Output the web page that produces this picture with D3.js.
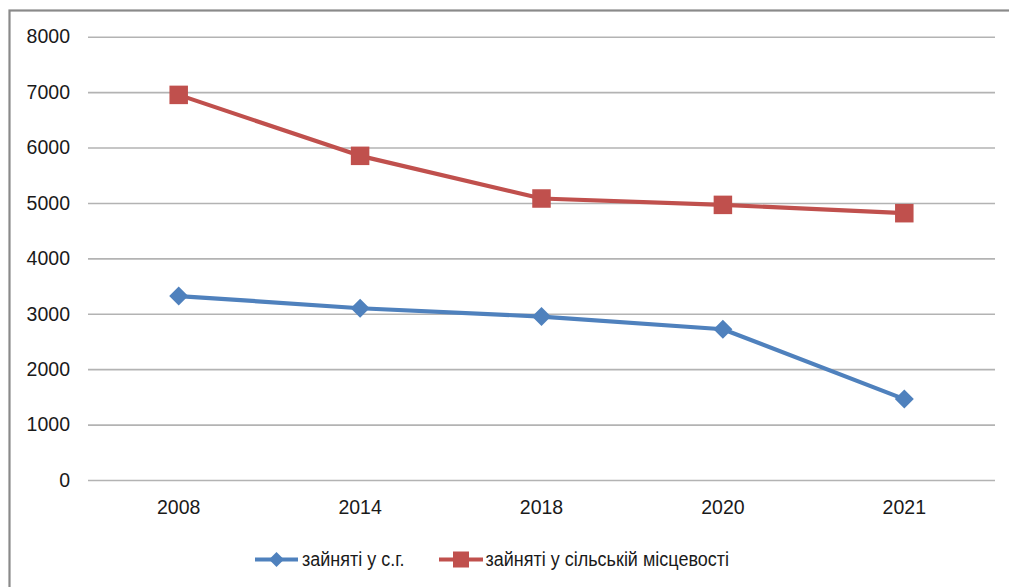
<!DOCTYPE html>
<html>
<head>
<meta charset="utf-8">
<script src="https://cdn.jsdelivr.net/npm/d3@7"></script>
<style>
  html, body { margin: 0; padding: 0; background: #fff; }
  svg { display: block; font-family: "Liberation Sans", Arial, sans-serif; }
</style>
</head>
<body>
<svg id="chart" width="1009" height="587"></svg>
<script>
// Years on the horizontal axis
const years = ["2008", "2014", "2018", "2020", "2021"];
// Employed in agriculture
const agriValues = [3320, 3100, 2950, 2720, 1460];
// Employed in rural areas
const ruralValues = [6950, 5850, 5080, 4965, 4815];
// Vertical axis ticks
const yTicks = [0, 1000, 2000, 3000, 4000, 5000, 6000, 7000, 8000];
const seriesNames = ["зайняті у с.г.", "зайняті у сільській місцевості"];

const svg = d3.select("#chart");
const W = 1009, H = 587;
const plot = { left: 88, right: 995, top: 36.7, bottom: 480 };
const textColor = "#1a1a1a";

// chart frame
svg.append("rect")
  .attr("x", 9.5).attr("y", 10.5)
  .attr("width", W + 10).attr("height", H + 10)
  .attr("fill", "#fff")
  .attr("stroke", "#8a8a8a").attr("stroke-width", 2.2);

const x = d3.scaleBand().domain(years).range([plot.left, plot.right]);
const y = d3.scaleLinear().domain([0, 8000]).range([plot.bottom, plot.top]);

// horizontal gridlines + y labels
const yAxis = d3.axisLeft(y).tickValues(yTicks).tickFormat(d3.format("d"))
  .tickSize(-(plot.right - plot.left)).tickPadding(18);
const gy = svg.append("g").attr("transform", `translate(${plot.left},0)`).call(yAxis);
gy.select(".domain").remove();
gy.selectAll(".tick line").attr("stroke", "#b3b3b3").attr("stroke-width", 1.6);
gy.selectAll(".tick text")
  .attr("fill", textColor).attr("font-size", 19.5).attr("x", -18)
  .attr("font-family", "'Liberation Sans', Arial, sans-serif");

// x labels
const xAxis = d3.axisBottom(x).tickSize(0).tickPadding(20);
const gx = svg.append("g").attr("transform", `translate(0,${plot.bottom})`).call(xAxis);
gx.select(".domain").remove();
gx.selectAll(".tick text")
  .attr("fill", textColor).attr("font-size", 19.5)
  .attr("font-family", "'Liberation Sans', Arial, sans-serif");

const cx = d => x(d) + x.bandwidth() / 2;
const line = d3.line().x(d => cx(d.year)).y(d => y(d.value));

const blue = "#4f81bd", red = "#c0504d";
const agri = years.map((yr, i) => ({ year: yr, value: agriValues[i] }));
const rural = years.map((yr, i) => ({ year: yr, value: ruralValues[i] }));

function drawSeries(data, color, marker) {
  svg.append("path").datum(data)
    .attr("d", line).attr("fill", "none")
    .attr("stroke", color).attr("stroke-width", 4.2)
    .attr("stroke-linejoin", "round");
  const g = svg.append("g");
  data.forEach(d => {
    const px = cx(d.year), py = y(d.value);
    if (marker === "diamond") {
      const r = 9.5;
      g.append("path")
        .attr("d", `M${px},${py - r}L${px + r},${py}L${px},${py + r}L${px - r},${py}Z`)
        .attr("fill", color);
    } else {
      const s = 18.5;
      g.append("rect").attr("x", px - s / 2).attr("y", py - s / 2)
        .attr("width", s).attr("height", s).attr("fill", color);
    }
  });
}
drawSeries(rural, red, "square");
drawSeries(agri, blue, "diamond");

// legend
const ly = 559.5;
const leg = svg.append("g");
leg.append("line").attr("x1", 255).attr("x2", 298).attr("y1", ly).attr("y2", ly)
  .attr("stroke", blue).attr("stroke-width", 4.2);
leg.append("path")
  .attr("d", `M276.5,${ly - 7.5}L284,${ly}L276.5,${ly + 7.5}L269,${ly}Z`).attr("fill", blue);
leg.append("line").attr("x1", 439).attr("x2", 483).attr("y1", ly).attr("y2", ly)
  .attr("stroke", red).attr("stroke-width", 4.2);
leg.append("rect").attr("x", 461 - 8).attr("y", ly - 8).attr("width", 16).attr("height", 16)
  .attr("fill", red);

// legend labels, slightly condensed type
[[302, seriesNames[0]], [485.5, seriesNames[1]]].forEach(([lx, label]) => {
  leg.append("text")
    .attr("transform", `translate(${lx},${ly}) scale(1,1.12)`)
    .attr("dominant-baseline", "central")
    .attr("font-size", 18).attr("fill", textColor).text(label);
});
</script>
</body>
</html>
